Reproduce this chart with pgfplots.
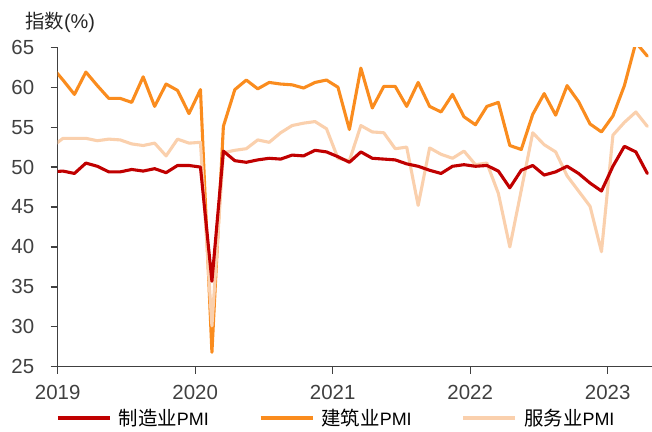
\documentclass[border=0pt]{standalone}
\usepackage{fontspec}
\setmainfont{Liberation Sans}
\newfontfamily\cjk{Noto Sans CJK SC}
\usepackage{pgfplots}
\usepackage{pgfplotstable}
\pgfplotsset{compat=1.18}

\definecolor{mfg}{HTML}{C00000}
\definecolor{con}{HTML}{FA8C1E}
\definecolor{srv}{HTML}{FAD0AD}
\definecolor{axgray}{HTML}{404040}

% Monthly PMI readings; x = months since Jan 2019, placed mid-month
\pgfplotstableread{
x      mfg   con   srv
-0.54  49.4  62.6  52.5
0.46   49.5  60.9  53.6
1.46   49.2  59.1  53.6
2.46   50.5  61.9  53.6
3.46   50.1  60.2  53.3
4.46   49.4  58.6  53.5
5.46   49.4  58.6  53.4
6.46   49.7  58.1  52.9
7.46   49.5  61.3  52.7
8.46   49.8  57.6  53.0
9.46   49.3  60.4  51.4
10.46  50.2  59.6  53.5
11.46  50.2  56.7  53.0
12.46  50.0  59.7  53.1
13.46  35.7  26.8  30.1
14.46  52.0  55.1  51.8
15.46  50.8  59.7  52.1
16.46  50.6  60.9  52.3
17.46  50.9  59.8  53.4
18.46  51.1  60.6  53.1
19.46  51.0  60.4  54.3
20.46  51.5  60.3  55.2
21.46  51.4  59.9  55.5
22.46  52.1  60.6  55.7
23.46  51.9  60.9  54.8
24.46  51.3  60.0  51.1
25.46  50.6  54.7  50.8
26.46  51.9  62.4  55.2
27.46  51.1  57.4  54.4
28.46  51.0  60.1  54.3
29.46  50.9  60.1  52.3
30.46  50.4  57.6  52.5
31.46  50.1  60.6  45.2
32.46  49.6  57.6  52.4
33.46  49.2  56.9  51.6
34.46  50.1  59.1  51.1
35.46  50.3  56.3  52.0
36.46  50.1  55.3  50.3
37.46  50.2  57.6  50.5
38.46  49.5  58.1  46.7
39.46  47.4  52.7  40.0
40.46  49.6  52.2  47.1
41.46  50.2  56.6  54.3
42.46  49.0  59.2  52.8
43.46  49.4  56.5  51.9
44.46  50.1  60.2  48.9
45.46  49.2  58.2  47.0
46.46  48.0  55.4  45.1
47.46  47.0  54.4  39.4
48.46  50.1  56.4  54.0
49.46  52.6  60.2  55.6
50.46  51.9  65.6  56.9
51.46  49.2  63.9  55.1
}\pmidata

\begin{document}
\begin{tikzpicture}
\useasboundingbox (-57.7bp,-65.3bp) rectangle (594.3bp,366.7bp);
\begin{axis}[
  at={(0,0)}, anchor=south west,
  scale only axis, width=594.3bp, height=319.4bp,
  xmin=0, xmax=51.87, ymin=25, ymax=65,
  axis x line*=bottom, axis y line*=left,
  axis line style={axgray, line width=1.3bp, -},
  xtick={0,12,24,36,48},
  xticklabels={2019,2020,2021,2022,2023},
  ytick={25,30,...,65},
  tick align=outside, major tick length=7bp,
  tick style={axgray, line width=1.3bp},
  ticklabel style={font=\fontsize{20.5}{24}\selectfont, text=axgray},
  yticklabel style={xshift=-13bp},
  xticklabel style={yshift=-8bp},
  /pgf/number format/assume math mode=true,
  every axis plot/.append style={line width=3.1bp, line join=round, line cap=round},
  legend columns=3,
  legend style={
    at={(axis description cs:-0.003,-0.1606)}, anchor=west,
    draw=none, fill=none, inner sep=0pt, outer sep=0pt,
    nodes={inner sep=0pt, outer sep=0pt},
    font=\fontsize{18}{22}\selectfont,
    /tikz/every even column/.append style={column sep=0pt},
    /tikz/every odd column/.append style={column sep=0pt},
  },
  legend cell align=left,
  legend image code/.code={\draw[#1, line width=3.8bp, line cap=butt] (0bp,0bp) -- (52bp,0bp);},
]
\addlegendimage{mfg}
\addlegendentry{\makebox[147bp][l]{\hspace{7bp}{\cjk\fontsize{19.5}{22}\selectfont 制造业}PMI}}
\addlegendimage{con}
\addlegendentry{\makebox[147bp][l]{\hspace{7bp}{\cjk\fontsize{19.5}{22}\selectfont 建筑业}PMI}}
\addlegendimage{srv}
\addlegendentry{\hspace{7bp}{\cjk\fontsize{19.5}{22}\selectfont 服务业}PMI}

\addplot[con, forget plot] table[x=x, y=con] {\pmidata};
\addplot[srv, forget plot] table[x=x, y=srv] {\pmidata};
\addplot[mfg, forget plot] table[x=x, y=mfg] {\pmidata};
\end{axis}
\node[anchor=west, inner sep=0pt, text=black!85] at (-32.7bp,344.7bp)
  {{\cjk\fontsize{19.5}{22}\selectfont 指数}\fontsize{20}{24}\selectfont(\%)};
\end{tikzpicture}
\end{document}
